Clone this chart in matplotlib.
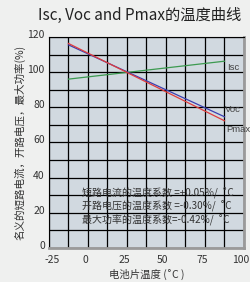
import matplotlib
matplotlib.use("Agg")
import matplotlib.pyplot as plt
from matplotlib.ticker import MultipleLocator
from matplotlib.transforms import ScaledTranslation

plt.rcParams['font.family'] = ['Noto Sans CJK SC', 'DejaVu Sans']
plt.rcParams['axes.unicode_minus'] = False

# ── data ──
temp = [-12.5, 87.5]
isc = [96.0, 106.2]
voc = [115.5, 74.6]
pmax = [116.3, 72.3]

coef_lines = [
    "短路电流的温度系数 =+0.05%/  ˚C",
    "开路电压的温度系数 =-0.30%/  ˚C",
    "最大功率的温度系数=-0.42%/  ˚C",
]
x_ticks = [-25, 0, 25, 50, 75, 100]
y_ticks = [0, 20, 40, 60, 80, 100, 120]

fig = plt.figure(figsize=(2.51, 2.82), dpi=100, facecolor="#eff0ef")
ax = fig.add_axes([0.195, 0.121, 0.777, 0.748], facecolor="#d1d9e0")

ax.plot(temp, isc, color="#3c9a50", lw=0.9)
ax.plot(temp, voc, color="#3a3fb0", lw=0.9)
ax.plot(temp, pmax, color="#e03c3c", lw=0.9)

lab_kw = dict(fontsize=6.8, color="#444444", family=["Liberation Sans", "DejaVu Sans"])
ax.text(89, isc[1] - 3.5, "Isc", ha="left", va="center", **lab_kw)
ax.text(87.5, 78.5, "Voc", ha="left", va="center", **lab_kw)
ax.text(88.5, 67.5, "Pmax", ha="left", va="center", **lab_kw)

for i, s in enumerate(coef_lines):
    ax.text(-3.8, 31 - i * 7.6, s, fontsize=7.2, color="#333333", va="center")

ax.set_xlim(-25, 100)
ax.set_ylim(0, 120)
ax.set_xticks(x_ticks)
ax.set_yticks(y_ticks)
ax.xaxis.set_minor_locator(MultipleLocator(12.5))
ax.yaxis.set_minor_locator(MultipleLocator(10))
ax.grid(which="both", color="black", lw=0.9)
ax.set_axisbelow(True)
ax.tick_params(which="both", length=0, labelsize=7.5, labelcolor="#333333")
ax.tick_params(axis="x", pad=5)
ax.tick_params(axis="y", pad=3)

# labels in the reference sit a few pixels off their gridlines
for i, lab in enumerate(ax.get_xticklabels()):
    dx = 3 if i == 0 else -3
    lab.set_transform(lab.get_transform() + ScaledTranslation(dx / 100, 0, fig.dpi_scale_trans))
for lab in ax.get_yticklabels():
    lab.set_transform(lab.get_transform() + ScaledTranslation(0, 3 / 100, fig.dpi_scale_trans))

for side in ("left", "top"):
    ax.spines[side].set_color("black")
    ax.spines[side].set_linewidth(0.8)
for side in ("right", "bottom"):
    ax.spines[side].set_color("#9a9a9a")
    ax.spines[side].set_linewidth(2)

ax.set_xlabel("电池片温度 (˚C )", fontsize=7.5, color="#333333", labelpad=3)
ax.set_ylabel("名义的短路电流，开路电压，最大功率(%)", fontsize=7.6, color="#333333", labelpad=1)
fig.text(0.555, 0.945, "Isc, Voc and Pmax的温度曲线", ha="center", va="center",
         fontsize=11, color="#222222")

fig.savefig("out.png", dpi=100, facecolor=fig.get_facecolor())
